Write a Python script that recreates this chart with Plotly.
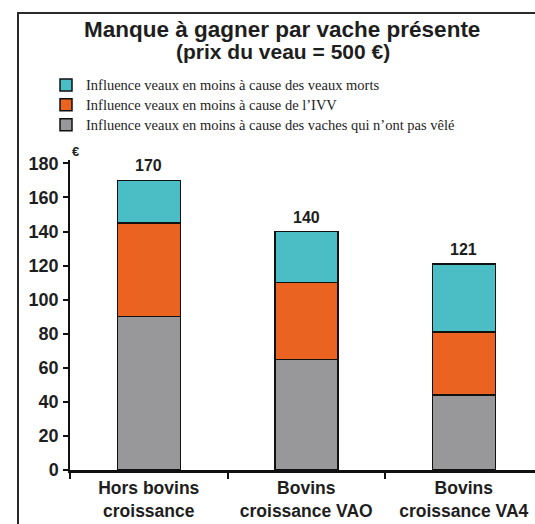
import plotly.graph_objects as go

categories = ["Hors bovins<br>croissance", "Bovins<br>croissance VAO", "Bovins<br>croissance VA4"]
vaches_non_velees = [90, 65, 44]
ivv = [55, 45, 37]
veaux_morts = [25, 30, 40]
totals = [170, 140, 121]

series_names = [
    "Influence veaux en moins à cause des vaches qui n’ont pas vêlé",
    "Influence veaux en moins à cause de l’IVV",
    "Influence veaux en moins à cause des veaux morts",
]
colors = ["#98989A", "#EB6320", "#4BBDC4"]
y_ticks = [0, 20, 40, 60, 80, 100, 120, 140, 160, 180]

SANS = "Liberation Sans, Arial, sans-serif"
SERIF = "Liberation Serif, Times New Roman, serif"
INK = "#1e1e1e"

W, H = 535, 524
L, R, T, B = 70, 0, 160, 54
pw, ph = W - L - R, H - T - B

def px_x(x):
    return (x - L) / pw

def px_y(y):
    return (H - B - y) / ph

fig = go.Figure()
for name, vals, col in zip(series_names, [vaches_non_velees, ivv, veaux_morts], colors):
    fig.add_trace(go.Bar(
        x=categories, y=vals,
        name=f"<span style='font-size:14.5px'>{name}</span>",
        width=0.4,
        marker=dict(color=col, line=dict(color="#111111", width=1.5)),
        hoverinfo="skip",
    ))

for c, t in zip(categories, totals):
    fig.add_annotation(x=c, y=t, text=str(t), showarrow=False,
                       yanchor="bottom", yshift=4,
                       font=dict(family=SANS, size=16, color=INK, weight="bold"))

fig.add_annotation(xref="paper", yref="paper", x=px_x(282), y=px_y(29),
                   text="Manque à gagner par vache présente", showarrow=False,
                   xanchor="center", yanchor="middle",
                   font=dict(family=SANS, size=22.5, color=INK, weight="bold"))
fig.add_annotation(xref="paper", yref="paper", x=px_x(283), y=px_y(51),
                   text="(prix du veau = 500 €)", showarrow=False,
                   xanchor="center", yanchor="middle",
                   font=dict(family=SANS, size=21, color=INK, weight="bold"))
fig.add_annotation(xref="paper", yref="paper", x=px_x(75), y=px_y(152),
                   text="€", showarrow=False,
                   xanchor="center", yanchor="middle",
                   font=dict(family=SANS, size=13, color=INK, weight="bold"))

fig.add_shape(type="rect", xref="paper", yref="paper",
              x0=px_x(18), x1=px_x(580), y0=px_y(13), y1=px_y(580),
              line=dict(color="#2a2a2a", width=2), fillcolor="rgba(0,0,0,0)", layer="above")

fig.update_layout(
    width=W, height=H,
    margin=dict(l=L, r=R, t=T, b=B, pad=0),
    paper_bgcolor="white", plot_bgcolor="white",
    barmode="stack",
    showlegend=True,
    legend=dict(traceorder="reversed", x=px_x(46), y=px_y(70), xanchor="left", yanchor="top",
                font=dict(family=SERIF, size=13, color=INK),
                bgcolor="rgba(0,0,0,0)", borderwidth=0, tracegroupgap=0, itemclick=False),
    xaxis=dict(range=[-0.5, -0.5 + pw / 157.5], showgrid=False, zeroline=False,
               showline=True, linecolor="#111111", linewidth=2.5,
               ticks="outside", tickson="boundaries", ticklen=6, tickwidth=2, tickcolor="#111111",
               tickfont=dict(family=SANS, size=17.5, color=INK, weight="bold")),
    yaxis=dict(range=[0, 182], tickvals=y_ticks, showgrid=False, zeroline=False,
               showline=True, linecolor="#111111", linewidth=1.5,
               ticks="outside", ticklen=5, tickwidth=1.5, tickcolor="#111111",
               tickfont=dict(family=SANS, size=18, color=INK, weight="bold"),
               ticklabelstandoff=1),
)

# remove the default 8px page margin so the 535x524 figure fills the window exactly
fig.write_html("out.html", config={"displayModeBar": False},
               post_script="document.body.style.margin='0';document.body.style.overflow='hidden';")
